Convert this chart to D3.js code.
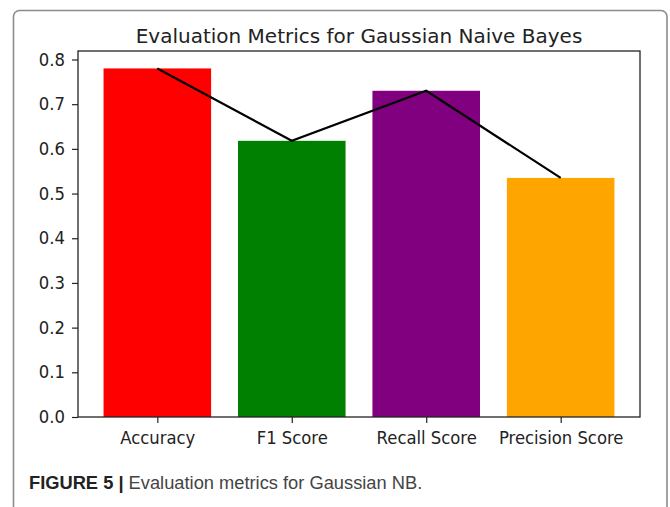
<!DOCTYPE html>
<html><head><meta charset="utf-8">
<script src="https://cdn.jsdelivr.net/npm/d3@7"></script>
<style>html,body{margin:0;padding:0;background:#fff;}</style>
</head><body>
<script>
const categories = ["Accuracy", "F1 Score", "Recall Score", "Precision Score"];
const values = [0.780, 0.618, 0.730, 0.535];
const barColors = ["#ff0000", "#008000", "#800080", "#ffa500"];
const yTicks = [0.0, 0.1, 0.2, 0.3, 0.4, 0.5, 0.6, 0.7, 0.8];
const title = "Evaluation Metrics for Gaussian Naive Bayes";

const W = 670, H = 507;
const svg = d3.select("body").append("svg").attr("width", W).attr("height", H);

// outer frame
svg.append("rect").attr("x", 13.5).attr("y", 10.5).attr("width", 653.5).attr("height", 540)
  .attr("rx", 6).attr("fill", "none").attr("stroke", "#8c8c8c").attr("stroke-width", 1.6);

const L = 78, R = 640, T = 51, B = 417;
const x = d3.scaleLinear().domain([-0.59, 3.59]).range([L, R]);
const ymax = d3.max(values) * 1.05;
const y = d3.scaleLinear().domain([0, ymax]).range([B, T]);

const g = svg.append("g");
g.selectAll("rect.bar").data(values).enter().append("rect")
  .attr("class", "bar")
  .attr("x", (d, i) => x(i - 0.4))
  .attr("width", (d, i) => x(i + 0.4) - x(i - 0.4))
  .attr("y", d => y(d))
  .attr("height", d => B - y(d))
  .attr("fill", (d, i) => barColors[i]);

const line = d3.line().x((d, i) => x(i)).y(d => y(d));
g.append("path").datum(values).attr("d", line)
  .attr("fill", "none").attr("stroke", "#000").attr("stroke-width", 2.2);

// axes
const xAxis = d3.axisBottom(x)
  .tickValues(d3.range(categories.length)).tickFormat(i => categories[i])
  .tickSize(6).tickPadding(8);
const yAxis = d3.axisLeft(y).tickValues(yTicks).tickFormat(d3.format(".1f"))
  .tickSize(6).tickPadding(8);

const gx = svg.append("g").attr("transform", `translate(0,${B})`).call(xAxis);
const gy = svg.append("g").attr("transform", `translate(${L},0)`).call(yAxis);
[gx, gy].forEach(a => {
  a.select(".domain").remove();
  a.selectAll("line").attr("stroke", "#222").attr("stroke-width", 1.2);
  a.selectAll("text").attr("fill", "#222").style("font-family", "DejaVu Sans")
    .style("font-size", "17.5px").attr("transform", "scale(0.94,1)");
});
gx.selectAll("text").attr("dy", "0.75em");

// axes frame
svg.append("rect").attr("x", L).attr("y", T).attr("width", R - L).attr("height", B - T)
  .attr("fill", "none").attr("stroke", "#222").attr("stroke-width", 1.3);

svg.append("text").attr("x", (L + R) / 2).attr("y", 43).attr("text-anchor", "middle")
  .style("font-family", "DejaVu Sans").style("font-size", "20px").attr("fill", "#222")
  .text(title);

const cap = svg.append("text").attr("x", 29).attr("y", 489)
  .style("font-family", "Liberation Sans, Arial").style("font-size", "18.3px");
cap.append("tspan").attr("font-weight", "bold").attr("fill", "#222").text("FIGURE 5 | ");
cap.append("tspan").attr("fill", "#444").text("Evaluation metrics for Gaussian NB.");
</script>
</body></html>
